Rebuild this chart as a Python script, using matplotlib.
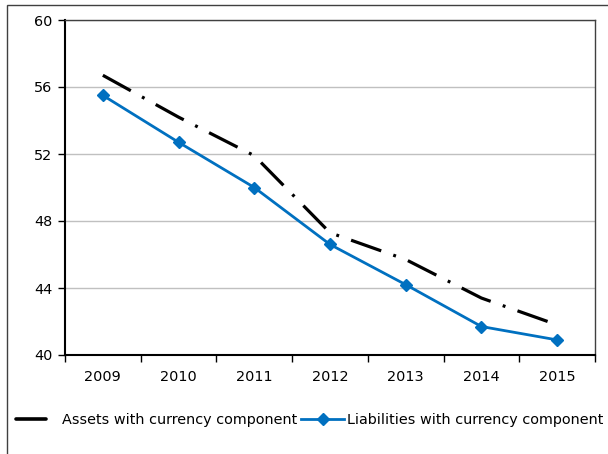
import matplotlib.pyplot as plt
from matplotlib.patches import Rectangle
from matplotlib.lines import Line2D

years = ["2009", "2010", "2011", "2012", "2013", "2014", "2015"]
assets = [56.7, 54.2, 51.9, 47.3, 45.7, 43.4, 41.8]
liabilities = [55.5, 52.7, 50.0, 46.6, 44.2, 41.7, 40.9]
yticks = [40, 44, 48, 52, 56, 60]

plt.rcParams['font.family'] = ['DejaVu Sans']
plt.rcParams['font.size'] = 10.4

fig = plt.figure(figsize=(6.08, 4.54), dpi=100)
ax = fig.add_axes([65/608, 99/454, 530/608, 335/454])

x = list(range(len(years)))
ax.plot(x, assets, color='black', lw=2.3, linestyle=(0, (10, 4, 0.9, 4)),
        solid_capstyle='butt', dash_capstyle='butt')
l2, = ax.plot(x, liabilities, color='#0070C0', lw=2, marker='D', markersize=6)

ax.set_xlim(-0.5, len(years) - 0.5)
ax.set_ylim(40, 60)
ax.set_yticks(yticks)
ax.set_xticks(x)
ax.set_xticklabels(years)
ax.set_xticks([i - 0.5 for i in range(len(years) + 1)], minor=True)
ax.tick_params(axis='x', which='major', length=0, pad=11)
ax.tick_params(axis='x', which='minor', length=5, width=1, direction='out')
ax.tick_params(axis='y', length=5, width=1, direction='out', pad=4)
ax.grid(axis='y', color='#c0c0c0', lw=1)
ax.set_axisbelow(True)
for s in ['top', 'right']:
    ax.spines[s].set_color('#404040')
    ax.spines[s].set_linewidth(1)
for s in ['left', 'bottom']:
    ax.spines[s].set_color('black')
    ax.spines[s].set_linewidth(1.5)

# legend shows a solid black handle like the original
l1 = Line2D([], [], color='black', lw=2.6, solid_capstyle='round')
fig.legend([l1], ["Assets with currency component"], loc='center left',
           bbox_to_anchor=(16/608, 34/454), frameon=False,
           handlelength=2.1, handletextpad=1.1, borderaxespad=0, borderpad=0)
fig.legend([l2], ["Liabilities with currency component"], loc='center left',
           bbox_to_anchor=(301/608, 34/454), frameon=False,
           handlelength=3.0, handletextpad=0.2, borderaxespad=0, borderpad=0)

fig.patches.append(Rectangle((7/608, -0.1), 1.0, (449/454) + 0.1,
                             transform=fig.transFigure, fill=False,
                             edgecolor='#404040', lw=1))

fig.savefig("out.png", dpi=100)
